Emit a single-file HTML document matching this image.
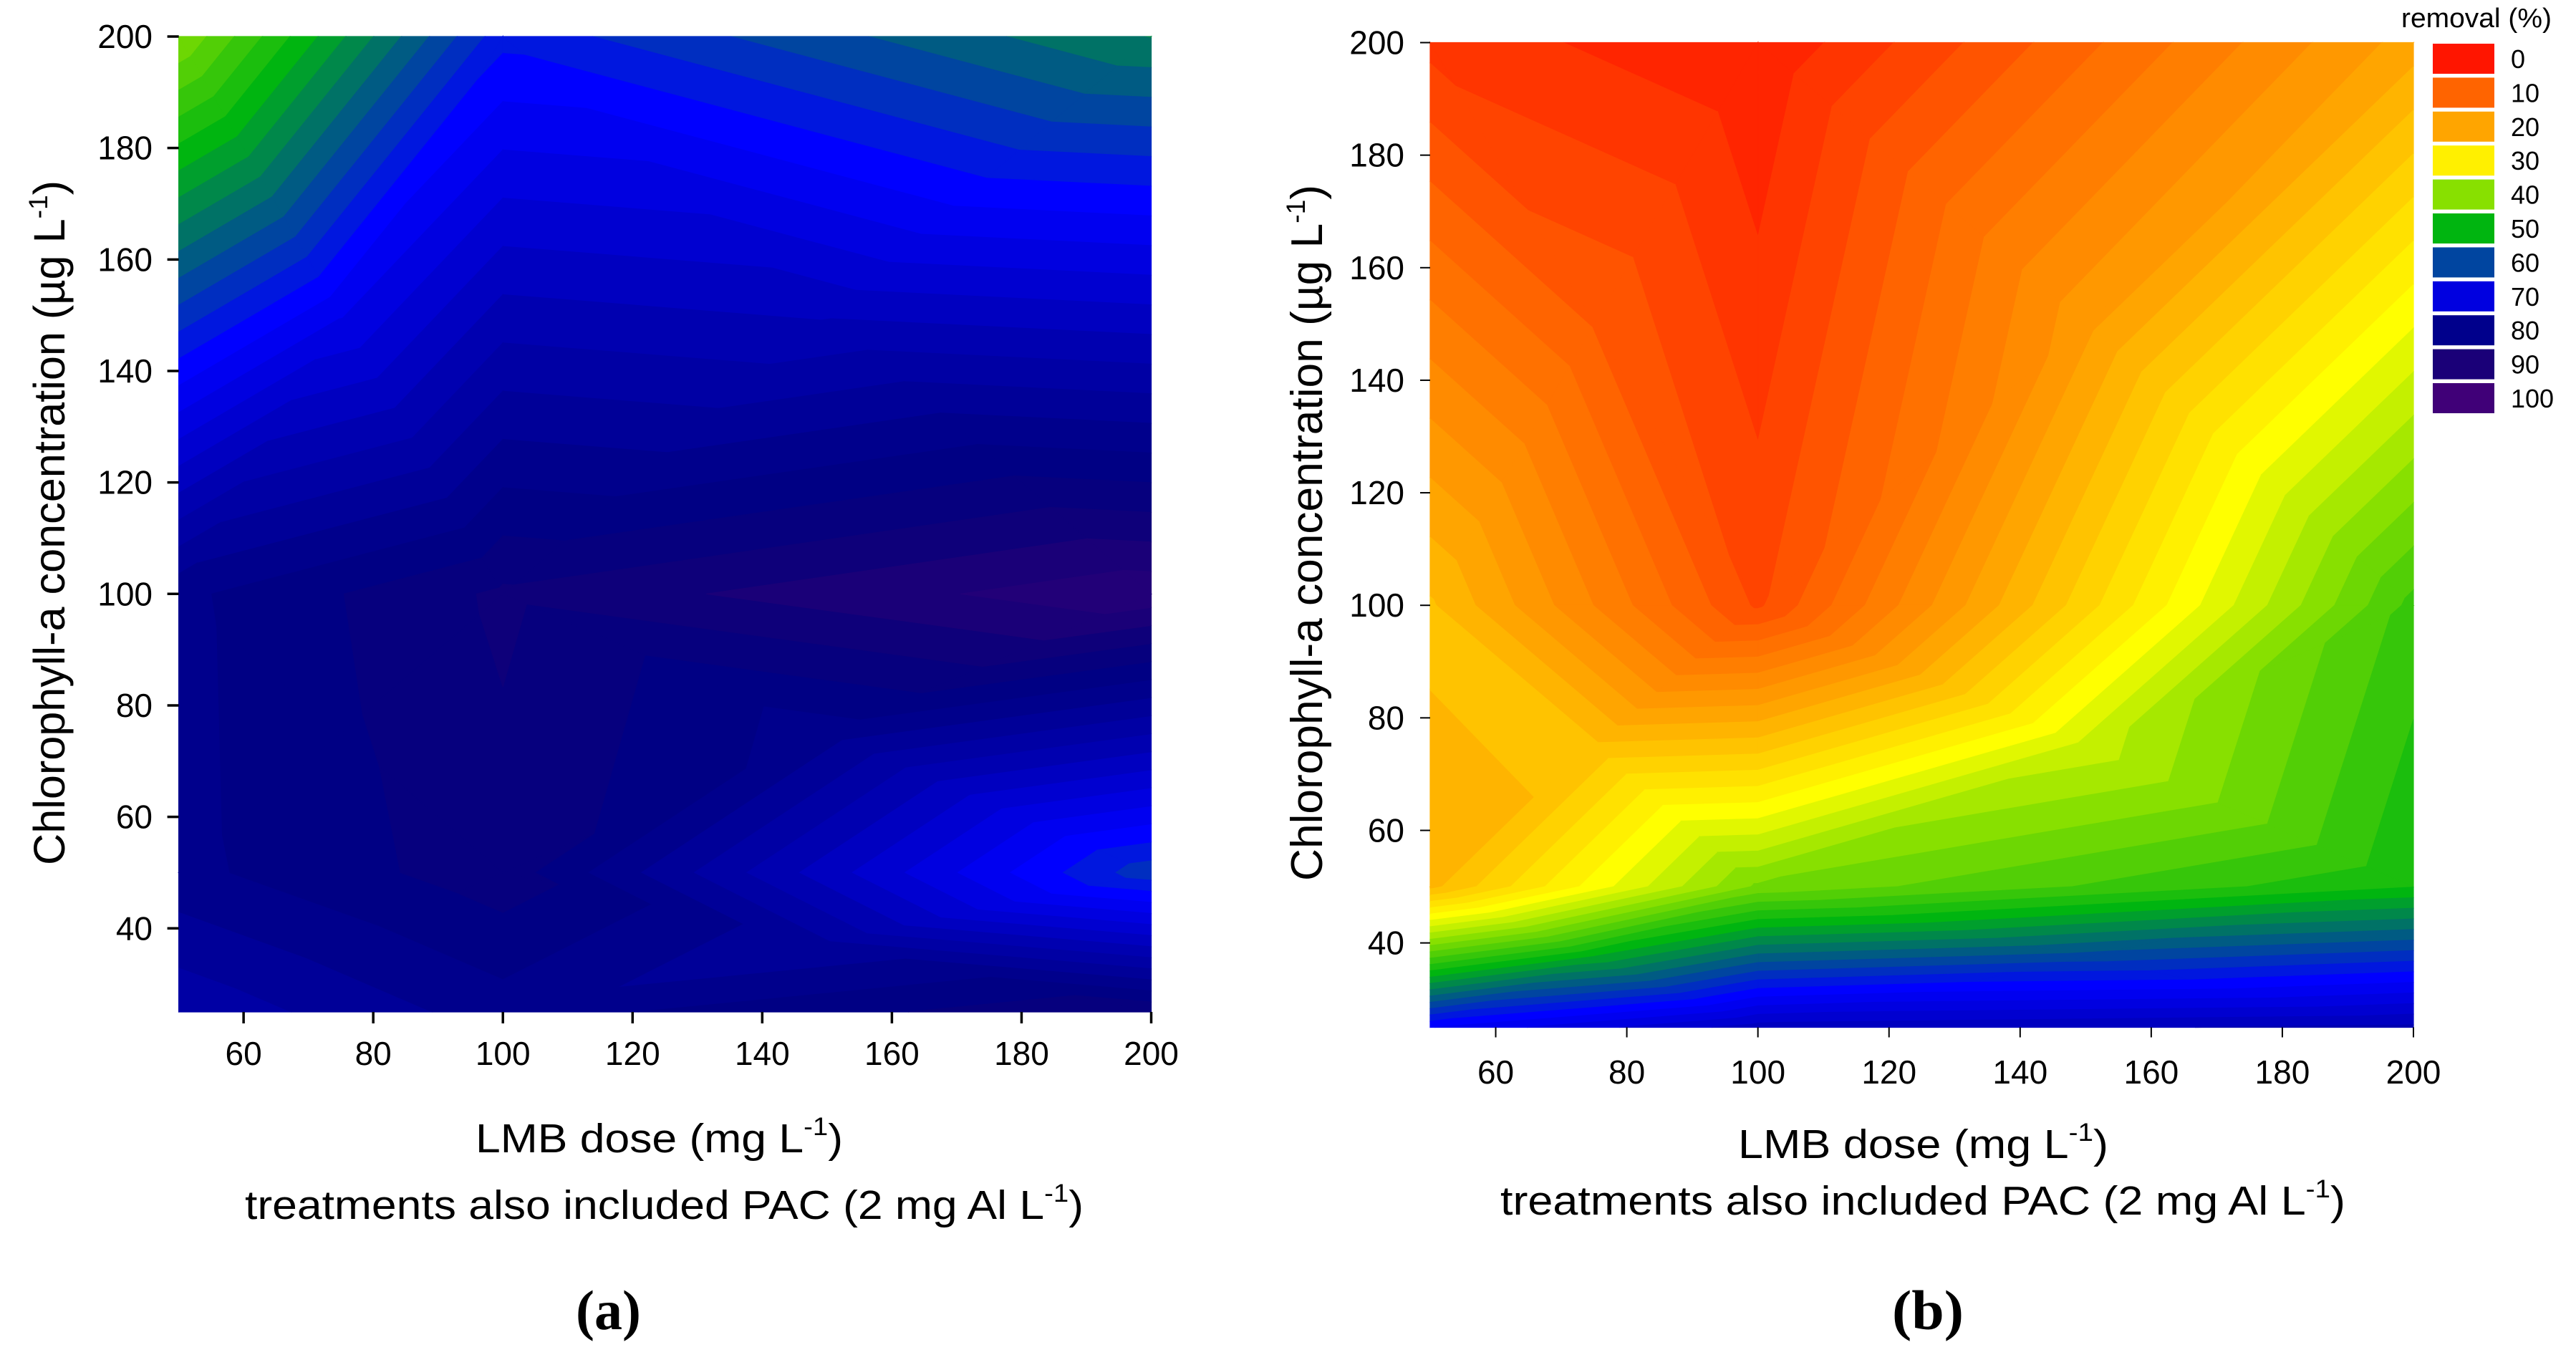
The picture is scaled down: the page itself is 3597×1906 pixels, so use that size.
<!DOCTYPE html>
<html lang="en">
<head>
<meta charset="utf-8">
<title>Removal contour plots</title>
<style>
html,body{margin:0;padding:0;background:#fff;}
svg{display:block;}
text{font-family:"Liberation Sans",Arial,sans-serif;fill:#000;}
.serif{font-family:"Liberation Serif","Times New Roman",serif;font-weight:bold;}
</style>
</head>
<body>
<svg id="figure" xmlns="http://www.w3.org/2000/svg" width="3597" height="1906" viewBox="0 0 3597 1906">
  <rect x="0" y="0" width="3597" height="1906" fill="#ffffff"/>
  <g id="panel-a"></g>
  <g id="panel-b"></g>

  <text transform="translate(90,1208) rotate(-90)" font-size="61" textLength="956" lengthAdjust="spacingAndGlyphs">Chlorophyll-a concentration (µg L<tspan font-size="37" dy="-24">-1</tspan><tspan dy="24">)</tspan></text>
  <text x="664" y="1609" font-size="57" textLength="513" lengthAdjust="spacingAndGlyphs">LMB dose (mg L<tspan font-size="35" dy="-24">-1</tspan><tspan dy="24">)</tspan></text>
  <text x="342" y="1702" font-size="57" textLength="1171" lengthAdjust="spacingAndGlyphs">treatments also included PAC (2 mg Al L<tspan font-size="35" dy="-24">-1</tspan><tspan dy="24">)</tspan></text>
  <text class="serif" x="804" y="1856" font-size="78" textLength="91" lengthAdjust="spacingAndGlyphs">(a)</text>

  <text transform="translate(1846,1230) rotate(-90)" font-size="62" textLength="972" lengthAdjust="spacingAndGlyphs">Chlorophyll-a concentration (µg L<tspan font-size="37" dy="-24">-1</tspan><tspan dy="24">)</tspan></text>
  <text x="2427" y="1617" font-size="57" textLength="517" lengthAdjust="spacingAndGlyphs">LMB dose (mg L<tspan font-size="35" dy="-24">-1</tspan><tspan dy="24">)</tspan></text>
  <text x="2095" y="1696" font-size="57" textLength="1180" lengthAdjust="spacingAndGlyphs">treatments also included PAC (2 mg Al L<tspan font-size="35" dy="-24">-1</tspan><tspan dy="24">)</tspan></text>
  <text class="serif" x="2642" y="1856" font-size="78" textLength="100" lengthAdjust="spacingAndGlyphs">(b)</text>

  <g id="legend">
    <text x="3353" y="38" font-size="38" textLength="210" lengthAdjust="spacingAndGlyphs">removal (%)</text>
  </g>
</svg>
<script>
// ---- chart data ----
const lmbDoses = [50, 100, 200];
const chlConcentrations = [25, 50, 100, 200];
// rows follow chlConcentrations, columns follow lmbDoses
const removalA = [
  [78.4, 83, 87.8],
  [83.4, 87.2, 62.6],
  [83.5, 88.4, 93.5],
  [42, 65.3, 55.9]
];
const removalB = [
  [67.9, 75, 76.5],
  [23.3, 42.4, 49.9],
  [24.3, 7.6, 46.7],
  [5.3, 2.1, 20.9]
];
const xTickLabels = [60, 80, 100, 120, 140, 160, 180, 200];
const yTickLabels = [40, 60, 80, 100, 120, 140, 160, 180, 200];
const legendValues = [0, 10, 20, 30, 40, 50, 60, 70, 80, 90, 100];
const legendColors = ['#ff1500', '#ff6400', '#ffa500', '#fff000', '#88e000', '#00b510', '#0045a0', '#0000e0', '#00008c', '#1a0078', '#400078'];

// ---- colour ramp ----
const rampStops = [0, 10, 20, 30, 32, 40, 50, 60, 66, 70, 76, 78, 80, 82, 84, 86, 88, 90, 100];
const rampColors = [
  [255,21,0],[255,100,0],[255,165,0],[255,240,0],[255,255,0],[136,224,0],
  [0,181,16],[0,69,160],[0,0,255],[0,0,224],[0,0,176],[0,0,164],[0,0,152],
  [0,0,140],[0,0,132],[6,0,126],[14,0,122],[26,0,120],[64,0,120]
];
const bandStep = 2;

function rampColor(v) {
  let i = 0;
  while (i < rampStops.length - 2 && v > rampStops[i + 1]) i++;
  const t = Math.max(0, Math.min(1, (v - rampStops[i]) / (rampStops[i + 1] - rampStops[i])));
  const c = rampColors[i].map((a, k) => Math.round(a + (rampColors[i + 1][k] - a) * t));
  return 'rgb(' + c.join(',') + ')';
}

const SVG_NS = 'http://www.w3.org/2000/svg';

// Keep the part of a polygon where value >= level (sign 1) or value <= level (sign -1)
function clipPolygon(poly, level, sign) {
  const out = [];
  for (let i = 0; i < poly.length; i++) {
    const a = poly[i];
    const b = poly[(i + 1) % poly.length];
    const da = (a[2] - level) * sign;
    const db = (b[2] - level) * sign;
    if (da >= 0) out.push(a);
    if ((da >= 0) !== (db >= 0)) {
      const t = da / (da - db);
      out.push([a[0] + (b[0] - a[0]) * t, a[1] + (b[1] - a[1]) * t, level]);
    }
  }
  return out;
}

// Each grid cell is split into four triangles around a centre holding the mean of its corners
function cellTriangles(values) {
  const tris = [];
  for (let r = 0; r < chlConcentrations.length - 1; r++) {
    for (let c = 0; c < lmbDoses.length - 1; c++) {
      const x0 = lmbDoses[c], x1 = lmbDoses[c + 1];
      const y0 = chlConcentrations[r], y1 = chlConcentrations[r + 1];
      const p00 = [x0, y0, values[r][c]];
      const p10 = [x1, y0, values[r][c + 1]];
      const p11 = [x1, y1, values[r + 1][c + 1]];
      const p01 = [x0, y1, values[r + 1][c]];
      const mid = [(x0 + x1) / 2, (y0 + y1) / 2, (p00[2] + p10[2] + p11[2] + p01[2]) / 4];
      tris.push([p00, p10, mid], [p10, p11, mid], [p11, p01, mid], [p01, p00, mid]);
    }
  }
  return tris;
}

function drawPanel(group, values, box) {
  const xScale = v => box.left + (v - 50) / 150 * (box.right - box.left);
  const yScale = v => box.bottom - (v - 25) / 175 * (box.bottom - box.top);
  const tris = cellTriangles(values);

  for (let level = 0; level < 100; level += bandStep) {
    let d = '';
    for (const tri of tris) {
      let poly = clipPolygon(tri, level, 1);
      if (poly.length) poly = clipPolygon(poly, level + bandStep, -1);
      if (poly.length < 3) continue;
      d += 'M' + poly.map(p => xScale(p[0]).toFixed(1) + ' ' + yScale(p[1]).toFixed(1)).join('L') + 'Z';
    }
    if (!d) continue;
    const path = document.createElementNS(SVG_NS, 'path');
    
    
    path.setAttribute('d', d);
    const col = rampColor(level);
    path.setAttribute('fill', col);
    path.setAttribute('stroke', col);
    path.setAttribute('stroke-width', '1.2');
    group.appendChild(path);
  }

  for (const v of xTickLabels) {
    const tick = document.createElementNS(SVG_NS, 'line');
    
    
    tick.setAttribute('x1', xScale(v));
    tick.setAttribute('x2', xScale(v));
    tick.setAttribute('y1', box.bottom);
    tick.setAttribute('y2', box.bottom + box.tickLen);
    tick.setAttribute('stroke', '#000');
    tick.setAttribute('stroke-width', box.tickWidth);
    group.appendChild(tick);
    const label = document.createElementNS(SVG_NS, 'text');
    
    
    label.setAttribute('x', xScale(v));
    label.setAttribute('y', box.xLabelBase);
    label.setAttribute('font-size', '46');
    label.setAttribute('text-anchor', 'middle');
    label.textContent = v;
    group.appendChild(label);
  }

  for (const v of yTickLabels) {
    const tick = document.createElementNS(SVG_NS, 'line');
    
    
    tick.setAttribute('x1', box.left - box.tickLen);
    tick.setAttribute('x2', box.left);
    tick.setAttribute('y1', yScale(v));
    tick.setAttribute('y2', yScale(v));
    tick.setAttribute('stroke', '#000');
    tick.setAttribute('stroke-width', box.tickWidth);
    group.appendChild(tick);
    const label = document.createElementNS(SVG_NS, 'text');
    
    
    label.setAttribute('x', box.yLabelRight);
    label.setAttribute('y', yScale(v) + 16);
    label.setAttribute('font-size', '46');
    label.setAttribute('text-anchor', 'end');
    label.textContent = v;
    group.appendChild(label);
  }
}

drawPanel(document.getElementById('panel-a'), removalA,
  {left: 249.6, right: 1607.5, top: 51, bottom: 1413, tickLen: 16, tickWidth: 3.5, xLabelBase: 1487, yLabelRight: 213});
drawPanel(document.getElementById('panel-b'), removalB,
  {left: 1997, right: 3370, top: 59.5, bottom: 1434.5, tickLen: 14, tickWidth: 2, xLabelBase: 1513, yLabelRight: 1961});

const legendGroup = document.getElementById('legend');
legendValues.forEach((v, i) => {
  const top = 61 + i * 47.4;
  const swatch = document.createElementNS(SVG_NS, 'rect');
  
  
  swatch.setAttribute('x', 3397);
  swatch.setAttribute('y', top);
  swatch.setAttribute('width', 86);
  swatch.setAttribute('height', 42);
  swatch.setAttribute('fill', legendColors[i]);
  legendGroup.appendChild(swatch);
  const label = document.createElementNS(SVG_NS, 'text');
  
  
  label.setAttribute('x', 3506);
  label.setAttribute('y', top + 34);
  label.setAttribute('font-size', '36');
  label.textContent = v;
  legendGroup.appendChild(label);
});
</script>
</body>
</html>
